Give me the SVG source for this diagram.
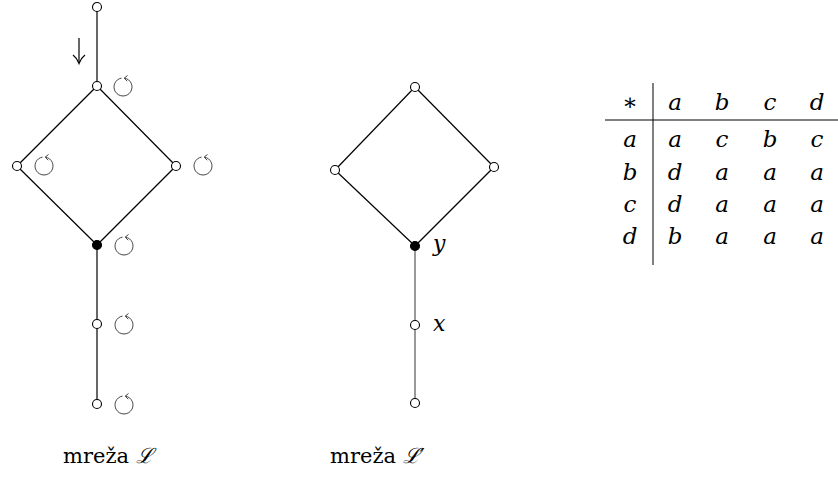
<svg xmlns="http://www.w3.org/2000/svg" width="838" height="477" viewBox="0 0 838 477">
<defs>
<style>
.edge{stroke:#000;stroke-width:1.2;fill:none}
.edge2{stroke:#555;stroke-width:1.2;fill:none}
.n{fill:#fff;stroke:#000;stroke-width:1.1}
.f{fill:#000;stroke:#000;stroke-width:1.1}
.rot{fill:none;stroke:#444;stroke-width:1}
</style>
<g id="rotsym">
<path class="rot" d="M1.5,-8.9 A9 9 0 1 1 -1.5,-8.9"/>
<path class="rot" d="M4.5,-11.5 L1.2,-8.9 L4.2,-5.8"/>
</g>
</defs>
<rect width="838" height="477" fill="#fff"/>
<g id="connectors">
<line class="edge" x1="97" y1="7" x2="97" y2="86"/>
<line class="edge" x1="97" y1="86" x2="17" y2="166"/>
<line class="edge" x1="97" y1="86" x2="176" y2="166"/>
<line class="edge" x1="17" y1="166" x2="97" y2="245"/>
<line class="edge" x1="176" y1="166" x2="97" y2="245"/>
<line class="edge" x1="97" y1="245" x2="97" y2="404"/>
<line class="edge" x1="415" y1="87" x2="335" y2="170"/>
<line class="edge" x1="415" y1="87" x2="494" y2="167"/>
<line class="edge" x1="335" y1="170" x2="415" y2="246"/>
<line class="edge" x1="494" y1="167" x2="415" y2="246"/>
<line class="edge2" x1="415" y1="246" x2="415" y2="403"/>
</g>
<g id="L">
<g id="L1"><circle class="n" cx="97" cy="7" r="4.5"/></g>
<g id="L2"><circle class="n" cx="97" cy="86" r="4.5"/></g>
<g id="L3"><circle class="n" cx="17" cy="166" r="4.5"/></g>
<g id="L4"><circle class="n" cx="176" cy="166" r="4.5"/></g>
<g id="L5"><circle class="f" cx="97" cy="245" r="4.5"/></g>
<g id="L6"><circle class="n" cx="97" cy="324" r="4.5"/></g>
<g id="L7"><circle class="n" cx="97" cy="404" r="4.5"/></g>
<g id="arrow" stroke="#000" stroke-width="1.2" fill="none">
<line x1="79" y1="38" x2="79" y2="63"/>
<path d="M73,55 Q77,58 79,63.5 Q81,58 85,55"/>
</g>
<use href="#rotsym" x="123" y="87"/>
<use href="#rotsym" x="44" y="166"/>
<use href="#rotsym" x="203" y="166"/>
<use href="#rotsym" x="124" y="246"/>
<use href="#rotsym" x="124" y="325"/>
<use href="#rotsym" x="124" y="405"/>
<text x="63" y="463" font-family="DejaVu Serif, serif" font-size="21">mreža <tspan font-style="italic">ℒ</tspan></text>
</g>
<g id="Lp">
<g id="P1"><circle class="n" cx="415" cy="87" r="4.5"/></g>
<g id="P2"><circle class="n" cx="335" cy="170" r="4.5"/></g>
<g id="P3"><circle class="n" cx="494" cy="167" r="4.5"/></g>
<g id="P4"><circle class="f" cx="415" cy="246" r="4.5"/></g>
<g id="P5"><circle class="n" cx="415" cy="325" r="4.5"/></g>
<g id="P6"><circle class="n" cx="415" cy="403" r="4.5"/></g>
<text x="433" y="251" font-family="DejaVu Serif, serif" font-style="italic" font-size="22">y</text>
<text x="433" y="331" font-family="DejaVu Serif, serif" font-style="italic" font-size="22">x</text>
<text x="330" y="463" font-family="DejaVu Serif, serif" font-size="21">mreža <tspan font-style="italic">ℒ′</tspan></text>
</g>
<g id="table">
<line x1="605" y1="120" x2="838" y2="120" stroke="#000" stroke-width="1"/>
<line x1="653" y1="83" x2="653" y2="265" stroke="#000" stroke-width="1"/>
<g font-family="DejaVu Serif, serif" font-style="italic" font-size="23" text-anchor="middle">
<text x="630" y="110" font-style="normal">∗</text>
<text x="675" y="110">a</text><text x="722" y="110">b</text><text x="770" y="110">c</text><text x="817" y="110">d</text>
<text x="630" y="147">a</text><text x="675" y="147">a</text><text x="722" y="147">c</text><text x="770" y="147">b</text><text x="817" y="147">c</text>
<text x="630" y="180">b</text><text x="675" y="180">d</text><text x="722" y="180">a</text><text x="770" y="180">a</text><text x="817" y="180">a</text>
<text x="630" y="212">c</text><text x="675" y="212">d</text><text x="722" y="212">a</text><text x="770" y="212">a</text><text x="817" y="212">a</text>
<text x="630" y="244">d</text><text x="675" y="244">b</text><text x="722" y="244">a</text><text x="770" y="244">a</text><text x="817" y="244">a</text>
</g>
</g>
</svg>
